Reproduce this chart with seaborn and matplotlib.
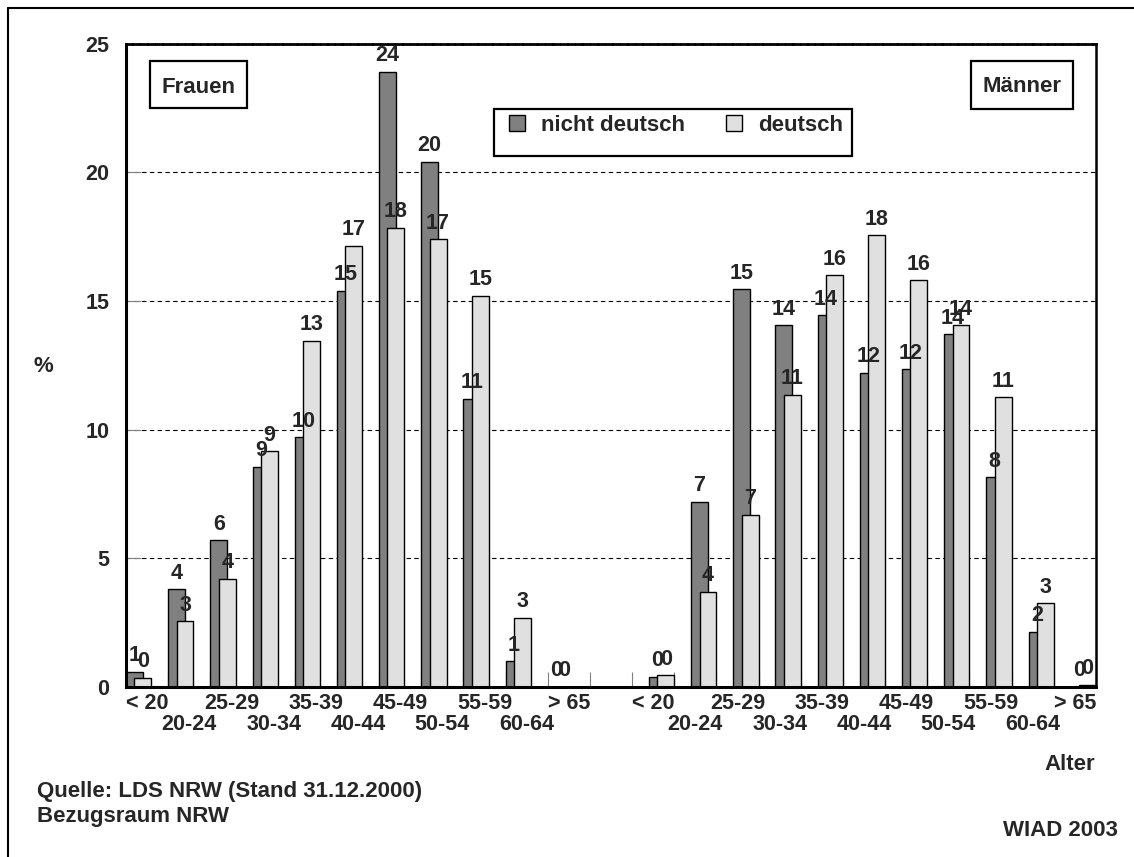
import matplotlib
matplotlib.use("Agg")
import matplotlib.pyplot as plt
from matplotlib.patches import Rectangle
from matplotlib.lines import Line2D
import pandas as pd
import seaborn as sns

# Altersgruppen
alter = ["< 20", "20-24", "25-29", "30-34", "35-39", "40-44",
         "45-49", "50-54", "55-59", "60-64", "> 65"]

# Anteile der Altersgruppen in %
frauen_nicht_deutsch = [0.6, 3.8, 5.7, 8.55, 9.7, 15.4, 23.9, 20.4, 11.2, 1.0, 0.0]
frauen_deutsch = [0.35, 2.55, 4.2, 9.15, 13.45, 17.15, 17.85, 17.4, 15.2, 2.7, 0.0]
maenner_nicht_deutsch = [0.4, 7.2, 15.45, 14.05, 14.45, 12.2, 12.35, 13.7, 8.15, 2.15, 0.0]
maenner_deutsch = [0.45, 3.7, 6.7, 11.35, 16.0, 17.55, 15.8, 14.05, 11.25, 3.25, 0.08]

herkunft = ["nicht deutsch", "deutsch"]
farben = ["#808080", "#e0e0e0"]
y_ticks = [0, 5, 10, 15, 20, 25]

W, H = 1134, 857

sns.set_style("white")
plt.rcParams["font.family"] = ["Liberation Sans", "DejaVu Sans"]
plt.rcParams["font.weight"] = "bold"


def fx(x):
    return x / W


def fy(y):
    return 1 - y / H


fig = plt.figure(figsize=(W / 100, H / 100), dpi=100)
ax = fig.add_axes([fx(126), fy(687), fx(1096) - fx(126), fy(43.5) - fy(687)])

n = len(alter)
start_m = n + 1  # one empty slot between the two groups

# every age group occupies one slot [k, k+1] on the x axis
rows = []
for i, a in enumerate(alter):
    rows.append(("Frauen", a, herkunft[0], frauen_nicht_deutsch[i], i + 0.2))
    rows.append(("Frauen", a, herkunft[1], frauen_deutsch[i], i + 0.4))
    rows.append(("Männer", a, herkunft[0], maenner_nicht_deutsch[i], start_m + i + 0.6))
    rows.append(("Männer", a, herkunft[1], maenner_deutsch[i], start_m + i + 0.8))
df = pd.DataFrame(rows, columns=["Geschlecht", "Alter", "Herkunft", "Anteil", "pos"])

for h, c in zip(herkunft, farben):
    sub = df[df["Herkunft"] == h]
    sns.barplot(data=sub, x="pos", y="Anteil", native_scale=True, width=0.4,
                color=c, saturation=1, edgecolor="black", linewidth=1.0,
                errorbar=None, label=h, ax=ax, zorder=3)

for cont in ax.containers:
    ax.bar_label(cont, fmt="%.0f", padding=4, fontsize=15.5,
                 fontweight="bold", zorder=6)

# axes
ax.set_xlim(0, 2 * n + 1)
ax.set_ylim(0, 25)
ax.set_yticks(y_ticks)
ax.set_yticklabels([str(t) for t in y_ticks], fontsize=15.5, fontweight="bold")
ax.tick_params(axis="y", direction="in", length=10.8, width=0.8,
               color="#808080", pad=12, left=True)

centers = [i + 0.5 for i in range(n)] + [start_m + i + 0.5 for i in range(n)]
ax.set_xticks(centers)
ax.set_xticklabels(alter + alter, fontsize=15.5, fontweight="bold")
ax.set_xticks(range(0, 2 * n + 2), minor=True)
ax.tick_params(axis="x", which="major", length=0, pad=4)
ax.tick_params(axis="x", which="minor", direction="in", length=10.8,
               width=0.8, color="#808080", bottom=True)
# age groups alternate between two label rows within each group
for i, t in enumerate(ax.xaxis.get_major_ticks()):
    if (i % n) % 2 == 1:
        t.set_pad(19.5)

ax.set_xlabel("")
ax.set_ylabel("")
ax.yaxis.grid(True, color="black", linewidth=0.8, linestyle=(0, (4, 3)))
ax.xaxis.grid(False)

for s in ["left", "bottom"]:
    ax.spines[s].set_linewidth(2.2)
    ax.spines[s].set_color("black")
ax.spines["right"].set_linewidth(1.8)
ax.spines["right"].set_color("black")
ax.spines["top"].set_linewidth(2.0)
ax.spines["top"].set_color("black")
ax.spines["top"].set_linestyle((0, (2, 0.7)))
for s in ax.spines.values():
    s.set_zorder(4)

# legend
handles, labels = ax.get_legend_handles_labels()
leg = ax.legend(handles, labels, ncol=2, frameon=False, loc="upper left",
                bbox_to_anchor=(fx(509), fy(115)), bbox_transform=fig.transFigure,
                borderpad=0, borderaxespad=0, handlelength=0.7, handleheight=0.7,
                handletextpad=0.75, columnspacing=1.85,
                prop={"size": 16, "weight": "bold"})

box_kw = dict(fill=False, edgecolor="black", linewidth=1.6,
              transform=fig.transFigure, figure=fig)
fig.patches.append(Rectangle((fx(494), fy(156)), fx(852) - fx(494), fy(109) - fy(156), **box_kw))
fig.patches.append(Rectangle((fx(150), fy(108.3)), fx(246.7) - fx(150), fy(60.7) - fy(108.3), **box_kw))
fig.patches.append(Rectangle((fx(970.7), fy(108.7)), fx(1072.7) - fx(970.7), fy(60.7) - fy(108.7), **box_kw))

txt = dict(fontsize=16, fontweight="bold", va="baseline")
fig.text(fx(198.3), fy(92.7), "Frauen", ha="center", **txt)
fig.text(fx(1021.7), fy(92.5), "Männer", ha="center", **txt)
fig.text(fx(43), fy(372), "%", ha="center", **txt)
fig.text(fx(1095), fy(770), "Alter", ha="right", **txt)
fig.text(fx(37), fy(797), "Quelle: LDS NRW (Stand 31.12.2000)", ha="left", **txt)
fig.text(fx(37), fy(822), "Bezugsraum NRW", ha="left", **txt)
fig.text(fx(1118), fy(836), "WIAD 2003", ha="right", **txt)

# frame lines at top and left
fig.add_artist(Line2D([fx(8), fx(1134)], [fy(8), fy(8)], color="black", linewidth=1.5))
fig.add_artist(Line2D([fx(8), fx(8)], [fy(8), fy(857)], color="black", linewidth=1.5))

fig.savefig("out.png", dpi=100)
